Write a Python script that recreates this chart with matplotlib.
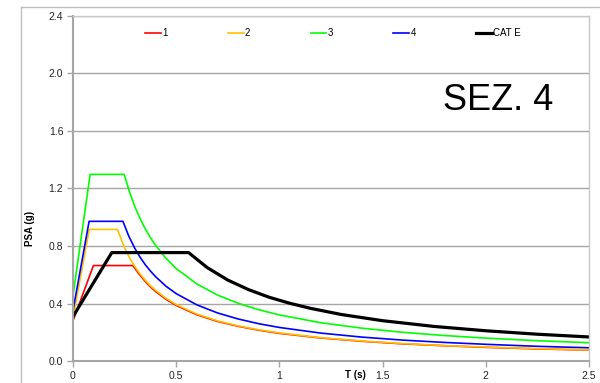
import matplotlib
matplotlib.use("Agg")
import matplotlib.pyplot as plt
from matplotlib.lines import Line2D

#==================================================================================
#     Elastic response spectra PSA(T) - section 4
#==================================================================================

t_1 = [0, 0.099, 0.29, 0.32, 0.35, 0.375, 0.4, 0.45, 0.5, 0.6, 0.7, 0.8, 0.9, 1.0, 1.2, 1.4, 1.6, 1.8, 2.0, 2.25, 2.5]
psa_1 = [0.281, 0.665, 0.665, 0.606, 0.554, 0.517, 0.485, 0.431, 0.388, 0.323, 0.277, 0.243, 0.216, 0.194,
         0.162, 0.139, 0.121, 0.108, 0.097, 0.086, 0.078]

t_2 = [0, 0.079, 0.215, 0.25, 0.275, 0.3, 0.325, 0.35, 0.375, 0.4, 0.45, 0.5, 0.6, 0.7, 0.8, 0.9, 1.0,
       1.2, 1.4, 1.6, 1.8, 2.0, 2.25, 2.5]
psa_2 = [0.30, 0.916, 0.916, 0.788, 0.716, 0.657, 0.606, 0.563, 0.525, 0.493, 0.438, 0.394, 0.328, 0.281,
         0.246, 0.219, 0.197, 0.164, 0.141, 0.123, 0.109, 0.099, 0.088, 0.079]

t_3 = [0, 0.083, 0.248, 0.275, 0.3, 0.325, 0.35, 0.375, 0.4, 0.45, 0.5, 0.6, 0.7, 0.8, 0.9, 1.0,
       1.2, 1.4, 1.6, 1.8, 2.0, 2.25, 2.5]
psa_3 = [0.456, 1.298, 1.298, 1.171, 1.073, 0.991, 0.92, 0.859, 0.805, 0.716, 0.644, 0.537, 0.46, 0.403,
         0.358, 0.322, 0.268, 0.23, 0.201, 0.179, 0.161, 0.143, 0.129]

t_4 = [0, 0.078, 0.242, 0.27, 0.3, 0.325, 0.35, 0.375, 0.4, 0.45, 0.5, 0.6, 0.7, 0.8, 0.9, 1.0,
       1.2, 1.4, 1.6, 1.8, 2.0, 2.25, 2.5]
psa_4 = [0.353, 0.972, 0.972, 0.87, 0.783, 0.723, 0.671, 0.627, 0.588, 0.522, 0.47, 0.392, 0.336, 0.294,
         0.261, 0.235, 0.196, 0.168, 0.147, 0.131, 0.118, 0.104, 0.094]

t_cat = [0, 0.188, 0.56, 0.65, 0.75, 0.85, 0.95, 1.05, 1.15, 1.3, 1.5, 1.75, 2.0, 2.25, 2.5]
psa_cat = [0.311, 0.755, 0.755, 0.651, 0.564, 0.498, 0.445, 0.403, 0.368, 0.325, 0.282, 0.242,
           0.212, 0.188, 0.169]

x_ticks = [0, 0.5, 1, 1.5, 2, 2.5]
x_labels = ['0', '0.5', '1', '1.5', '2', '2.5']
y_ticks = [0.0, 0.4, 0.8, 1.2, 1.6, 2.0, 2.4]

plt.rcParams['font.family'] = ['Liberation Sans', 'DejaVu Sans']

fig = plt.figure(figsize=(6, 3.83), dpi=100)
ax = fig.add_axes([73 / 600, 21.7 / 383, 516 / 600, 345.6 / 383])

# chart border (only left and top fall inside the image)
grey = '#bfbfbf'
fig.add_artist(Line2D([21 / 600, 21 / 600], [0, 1 - 7 / 383], color=grey, lw=1, transform=fig.transFigure))
fig.add_artist(Line2D([21 / 600, 1], [1 - 7 / 383, 1 - 7 / 383], color=grey, lw=1, transform=fig.transFigure))

ax.plot(t_1, psa_1, color='#ff0000', lw=1.2, label='1')
ax.plot(t_2, psa_2, color='#ffc000', lw=1.2, label='2')
ax.plot(t_3, psa_3, color='#00ff00', lw=1.2, label='3')
ax.plot(t_4, psa_4, color='#0000ff', lw=1.2, label='4')
ax.plot(t_cat, psa_cat, color='black', lw=2.3, label='CAT E')

ax.set_xlim(0, 2.5)
ax.set_ylim(0, 2.4)
ax.set_xticks(x_ticks)
ax.set_xticklabels(x_labels)
ax.set_yticks(y_ticks)
ax.set_yticklabels(['%.1f' % v for v in y_ticks])
ax.grid(axis='y', color='#a6a6a6', lw=1)
ax.set_axisbelow(True)

for side in ['left', 'bottom']:
    ax.spines[side].set_color('#a6a6a6')
    ax.spines[side].set_linewidth(1.5)
for side in ['top', 'right']:
    ax.spines[side].set_color('#c8c8c8')
    ax.spines[side].set_linewidth(1)
ax.tick_params(axis='both', direction='out', length=4, width=1, color='#a6a6a6',
               labelsize=7.5, labelcolor='#222222', pad=3)

ax.set_ylabel('PSA (g)', fontsize=7, fontweight='bold')
ax.yaxis.set_label_coords(-0.074, 0.383)
ax.set_xlabel('T (s)', fontsize=7, fontweight='bold')
ax.xaxis.set_label_coords(0.547, -0.025)
ax.xaxis.label.set_va('top')

ax.text(0.717, 0.754, 'SEZ. 4', transform=ax.transAxes, fontsize=26,
        ha='left', va='center', color='black')

ax.legend(loc='center', bbox_to_anchor=(0.504, 0.95), ncol=5, frameon=False,
          fontsize=7, handlelength=1.6, handletextpad=0.15, columnspacing=6.2)

plt.savefig('out.png', dpi=100)
